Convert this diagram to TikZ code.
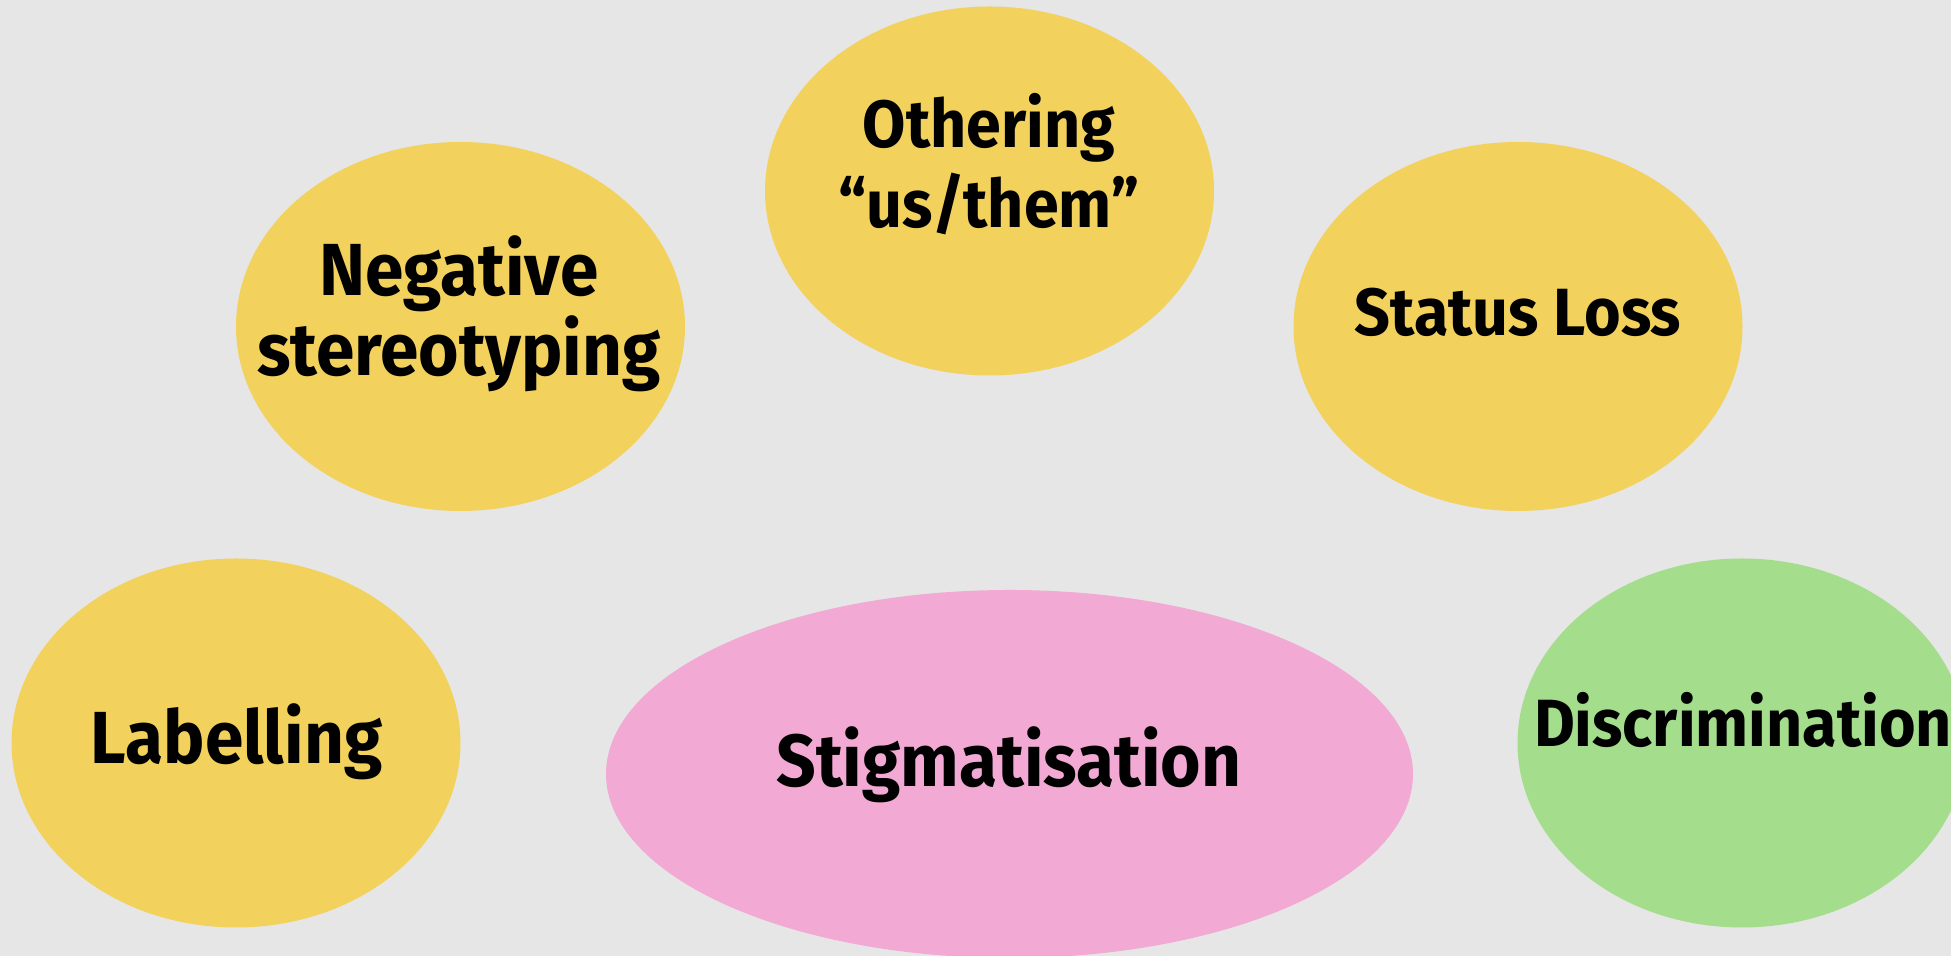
\documentclass[tikz,border=0pt]{standalone}
\usepackage{fontspec}
\setmainfont[FakeStretch=0.94]{Fira Sans}
\usetikzlibrary{shapes.geometric}

\definecolor{slidegrey}{HTML}{E6E6E6}
\definecolor{blobyellow}{HTML}{F2D25C}
\definecolor{blobpink}{HTML}{F2AAD5}
\definecolor{blobgreen}{HTML}{A4DE8C}

\begin{document}
\begin{tikzpicture}[
    blob/.style={ellipse, minimum width=4.49cm, minimum height=3.69cm, inner sep=0pt},
    bigtxt/.style={font=\bfseries\fontsize{21}{22.8}\selectfont, anchor=base, align=center},
    smalltxt/.style={font=\bfseries\fontsize{19}{22.8}\selectfont, anchor=base, align=center}]
\fill[slidegrey] (0,0) rectangle (19.51,9.56);
\clip (0,0) rectangle (19.51,9.56);

% the five yellow ones and the two others
\foreach \x/\y/\name in {9.895/7.65/othering, 4.605/6.295/negstereo, 15.18/6.295/statusloss, 2.36/2.13/labelling}
{
    \node[blob, fill=blobyellow] (\name) at (\x,\y) {};
}
\node[blob, fill=blobpink, minimum width=8.07cm, minimum height=3.68cm] (stigma) at (10.095,1.82) {};
\node[blob, fill=blobgreen] (discrim) at (17.42,2.13) {};

\node[smalltxt] (othering-txt) at (9.89,7.28) {Othering\\“us/them”};
\node[bigtxt] (negstereo-txt) at (4.59,5.80) {Negative\\stereotyping};
\node[smalltxt] (statusloss-txt) at (15.18,6.20) {Status Loss};
\node[bigtxt] (labelling-txt) at (2.365,1.92) {Labelling};
\node[bigtxt] (stigma-txt) at (10.09,1.69) {Stigmatisation};
\node[smalltxt] (discrim-txt) at (17.43,2.09) {Discrimination};
\end{tikzpicture}
\end{document}
